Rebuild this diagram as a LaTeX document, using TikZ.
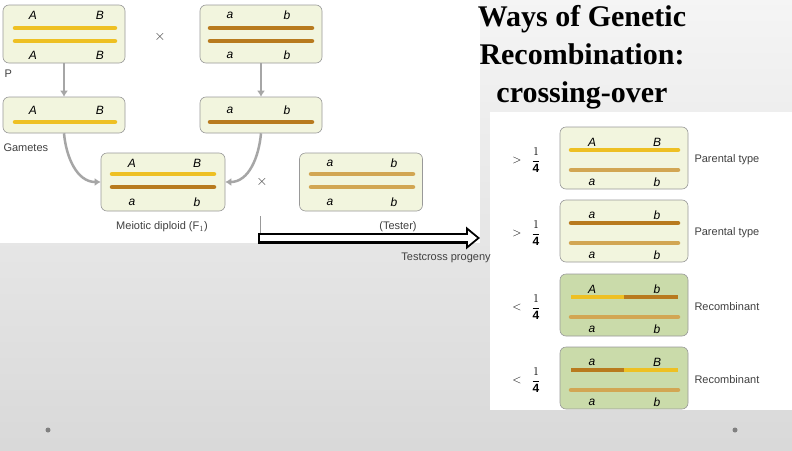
\documentclass[tikz,border=0pt]{standalone}
\usepackage{fontspec}
\usepackage{amsmath}
\setmainfont{Liberation Sans}
\newfontfamily\titlefont{Liberation Serif}
\usetikzlibrary{arrows.meta}
\begin{document}
\begin{tikzpicture}[x=1pt,y=-1pt,
  box/.style={draw=black!40,fill=boxf,rounded corners=6pt,line width=0.6pt},
  chr/.style={line width=4.5pt,line cap=round},
  lab/.style={font=\itshape\fontsize{12}{12}\selectfont},
  txt/.style={font=\fontsize{11}{12}\selectfont,text=black!75},
  garrow/.style={draw=black!35,line width=2.5pt,-{Latex[length=6pt,width=8pt]}},
  frac/.style={font=\fontsize{12}{12}\selectfont}]
\definecolor{boxf}{HTML}{F2F5DE}
\definecolor{recf}{HTML}{CADBAA}
\definecolor{yel}{HTML}{EEC023}
\definecolor{brn}{HTML}{B87A1E}
\definecolor{tan}{HTML}{D2A653}
\shade[top color=gray!8,bottom color=gray!30] (0,0) rectangle (792,450);
\useasboundingbox (0,0) rectangle (792,450);
\fill[white] (0,0) rectangle (480,243);
\fill[white] (490,112) rectangle (792,410);
\fill[gray] (48,430) circle (2.5);
\fill[gray] (735,430) circle (2.5);
% title
\node[font=\titlefont\bfseries\fontsize{30}{38}\selectfont,align=center] (title) at (582,57) {Ways of Genetic\\Recombination:\\crossing-over};
% P boxes
\node[box,minimum width=122,minimum height=58] (p1) at (64,34) {};
\draw[chr,yel] (15,28) -- (115,28); \draw[chr,yel] (15,41) -- (115,41);
\node[lab] at (33,15) {A}; \node[lab] at (100,15) {B};
\node[lab] at (33,55) {A}; \node[lab] at (100,55) {B};
\node[box,minimum width=122,minimum height=58] (p2) at (261,34) {};
\draw[chr,brn] (210,28) -- (312,28); \draw[chr,brn] (210,41) -- (312,41);
\node[lab] at (230,15) {a}; \node[lab] at (287,15) {b};
\node[lab] at (230,55) {a}; \node[lab] at (287,55) {b};
\node[txt,font=\fontsize{15}{15}\selectfont] (x1) at (160,37) {$\times$};
\node[txt,anchor=west] (P) at (1,74) {P};
% gametes
\node[box,minimum width=122,minimum height=36] (g1) at (64,115) {};
\draw[chr,yel] (15,122) -- (115,122);
\node[lab] at (33,110) {A}; \node[lab] at (100,110) {B};
\node[box,minimum width=122,minimum height=36] (g2) at (261,115) {};
\draw[chr,brn] (210,122) -- (312,122);
\node[lab] at (230,110) {a}; \node[lab] at (287,110) {b};
\node[txt,anchor=west] (gam) at (0,148) {Gametes};
\draw[garrow] (p1) -- (g1);
\draw[garrow] (p2) -- (g2);
% F1
\node[box,minimum width=124,minimum height=58] (f1) at (163,182) {};
\draw[chr,yel] (112,174) -- (214,174); \draw[chr,brn] (112,187) -- (214,187);
\node[lab] at (132,163) {A}; \node[lab] at (197,163) {B};
\node[lab] at (132,202) {a}; \node[lab] at (197,202) {b};
\draw[garrow] (g1.south) to[out=-85,in=180] (f1.west);
\draw[garrow] (g2.south) to[out=-95,in=0] (f1.east);
\node[txt,font=\fontsize{15}{15}\selectfont] (x2) at (262,182) {$\times$};
\node[box,minimum width=123,minimum height=58] (t) at (361,182) {};
\draw[chr,tan] (311,174) -- (413,174); \draw[chr,tan] (311,187) -- (413,187);
\node[lab] at (330,163) {a}; \node[lab] at (394,163) {b};
\node[lab] at (330,202) {a}; \node[lab] at (394,202) {b};
\node[txt] (md) at (162,227) {Meiotic diploid (F$_1$)};
\node[txt] (tl) at (398,227) {(Tester)};
\coordinate (s1) at (260,216); \coordinate (s2) at (260,240);
\draw[black!40,line width=0.8pt] (s1) -- (s2);
\coordinate (a1) at (258,238); \coordinate (a2) at (480,238);
\draw[line width=11pt,-{Triangle[length=14pt,width=22pt]}] (a1) -- (a2);
\draw[white,line width=6pt,-{Triangle[length=9pt,width=14pt]},shorten >=3pt,shorten <=2pt] (a1) -- (a2);
\node[txt] (tp) at (446,258) {Testcross progeny};
% right
\foreach \y/\f/\sa/\sb/\ba/\bb/\kind/\rel/\name in {
  158/boxf/A/B/a/b/Parental type/>/r1,
  231/boxf/a/b/a/b/Parental type/>/r2,
  305/recf/A/b/a/b/Recombinant/</r3,
  378/recf/a/B/a/b/Recombinant/</r4}{
  \node[box,fill=\f,minimum width=128,minimum height=62] (\name) at (624,\y) {};
  \node[lab] at (592,\y-16) {\sa}; \node[lab] at (657,\y-16) {\sb};
  \node[lab] at (592,\y+24) {\ba}; \node[lab] at (657,\y+24) {\bb};
  \draw[chr,tan] (571,\y+12) -- (678,\y+12);
  \node[txt,anchor=west] at (691,\y+2) {\kind};
  \node[frac] at (517,\y+2) {$\rel$};
  \node[frac] at (536,\y+2) {$\dfrac{1}{\mathbf{4}}$};
}
\draw[chr,yel] (571,150) -- (678,150);
\draw[chr,brn] (571,223) -- (678,223);
\draw[chr,yel,line cap=butt] (571,297) -- (624,297); \draw[chr,brn,line cap=butt] (624,297) -- (678,297);
\draw[chr,brn,line cap=butt] (571,370) -- (624,370); \draw[chr,yel,line cap=butt] (624,370) -- (678,370);
\end{tikzpicture}
\end{document}
